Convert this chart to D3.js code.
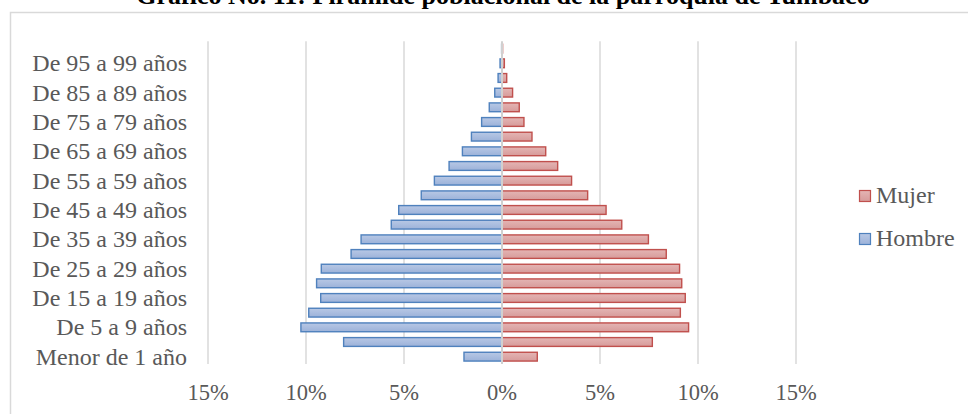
<!DOCTYPE html>
<html>
<head>
<meta charset="utf-8">
<script src="https://cdn.jsdelivr.net/npm/d3@7"></script>
<style>
  html, body { margin: 0; padding: 0; background: #fff; }
  svg { display: block; }
  text { font-family: "Liberation Serif", "Times New Roman", serif; }
</style>
</head>
<body>
<svg id="chart" width="968" height="414"></svg>
<script>
// Age groups, bottom to top of the pyramid
const categories = [
  "Menor de 1 año", "De 1 a 4 años", "De 5 a 9 años", "De 10 a 14 años",
  "De 15 a 19 años", "De 20 a 24 años", "De 25 a 29 años", "De 30 a 34 años",
  "De 35 a 39 años", "De 40 a 44 años", "De 45 a 49 años", "De 50 a 54 años",
  "De 55 a 59 años", "De 60 a 64 años", "De 65 a 69 años", "De 70 a 74 años",
  "De 75 a 79 años", "De 80 a 84 años", "De 85 a 89 años", "De 90 a 94 años",
  "De 95 a 99 años", "De 100 años y más"
];

// Share of total population (%) per age group
const hombre = [1.94, 8.08, 10.26, 9.86, 9.25, 9.46, 9.22, 7.70, 7.19, 5.65, 5.27,
                4.12, 3.45, 2.70, 2.02, 1.56, 1.04, 0.65, 0.37, 0.20, 0.10, 0.02];
const mujer  = [1.80, 7.67, 9.52, 9.10, 9.35, 9.17, 9.06, 8.38, 7.47, 6.11, 5.31,
                4.37, 3.55, 2.84, 2.23, 1.53, 1.12, 0.88, 0.54, 0.24, 0.12, 0.03];

const xTicks = [-15, -10, -5, 0, 5, 10, 15];
const seriesNames = ["Mujer", "Hombre"];
const title = "Gráfico No. 11: Pirámide poblacional de la parroquia de Tumbaco";

const svg = d3.select("#chart");
const textColor = "#595959";
const gridColor = "#d9d9d9";

// Gradients for the bar fills
const defs = svg.append("defs");
function grad(id, top, bottom) {
  const g = defs.append("linearGradient").attr("id", id)
    .attr("x1", 0).attr("y1", 0).attr("x2", 0).attr("y2", 1);
  g.append("stop").attr("offset", "0%").attr("stop-color", top);
  g.append("stop").attr("offset", "100%").attr("stop-color", bottom);
}
grad("gHombre", "#b8c8e5", "#9cb2d9");
grad("gMujer", "#e4b5b4", "#d79b9a");

const style = {
  Hombre: { fill: "url(#gHombre)", stroke: "#4f81bd" },
  Mujer:  { fill: "url(#gMujer)",  stroke: "#c0504d" }
};

// Chart frame
svg.append("rect")
  .attr("x", 10.5).attr("y", 12.5)
  .attr("width", 1000).attr("height", 500)
  .attr("fill", "#fff").attr("stroke", gridColor).attr("stroke-width", 1.5);

// Title
svg.append("text")
  .attr("x", 503).attr("y", 4)
  .attr("text-anchor", "middle")
  .attr("font-size", 26).attr("font-weight", "bold")
  .attr("fill", "#000")
  .text(title);

// Scales
const x = d3.scaleLinear().domain([-15, 15]).range([208, 796]);
const y = d3.scaleBand()
  .domain(categories.slice().reverse())
  .range([41.3, 364])
  .paddingInner(0.4)
  .paddingOuter(0.2);

// Vertical gridlines
svg.append("g").selectAll("line")
  .data(xTicks.filter(d => d !== 0))
  .join("line")
  .attr("x1", d => x(d)).attr("x2", d => x(d))
  .attr("y1", 41.3).attr("y2", 364)
  .attr("stroke", gridColor).attr("stroke-width", 1.5);

// Bars
const rows = categories.map((c, i) => ({ c, h: hombre[i], m: mujer[i] }));
const bars = svg.append("g");
bars.selectAll("rect.h")
  .data(rows).join("rect").attr("class", "h")
  .attr("x", d => x(-d.h)).attr("width", d => x(0) - x(-d.h))
  .attr("y", d => y(d.c)).attr("height", y.bandwidth())
  .attr("fill", style.Hombre.fill).attr("stroke", style.Hombre.stroke)
  .attr("stroke-width", 1.4);
bars.selectAll("rect.m")
  .data(rows).join("rect").attr("class", "m")
  .attr("x", x(0)).attr("width", d => x(d.m) - x(0))
  .attr("y", d => y(d.c)).attr("height", y.bandwidth())
  .attr("fill", style.Mujer.fill).attr("stroke", style.Mujer.stroke)
  .attr("stroke-width", 1.4);

// Zero axis line
svg.append("line")
  .attr("x1", x(0)).attr("x2", x(0))
  .attr("y1", 41.3).attr("y2", 364)
  .attr("stroke", "#d0d0d0").attr("stroke-width", 2);

// Category labels (every other group)
svg.append("g").selectAll("text")
  .data(categories.filter((c, i) => i % 2 === 0))
  .join("text")
  .attr("x", 187)
  .attr("y", d => y(d) + y.bandwidth() / 2 + 8)
  .attr("text-anchor", "end")
  .attr("font-size", 24)
  .attr("fill", textColor)
  .text(d => d);

// X tick labels
svg.append("g").selectAll("text")
  .data(xTicks)
  .join("text")
  .attr("x", d => x(d))
  .attr("y", 400)
  .attr("text-anchor", "middle")
  .attr("font-size", 22.5)
  .attr("fill", textColor)
  .text(d => Math.abs(d) + "%");

// Legend
const legend = svg.append("g");
seriesNames.forEach((name, i) => {
  const ly = 190 + i * 43;
  legend.append("rect")
    .attr("x", 859.5).attr("y", ly + 0.5)
    .attr("width", 11).attr("height", 11)
    .attr("fill", style[name].fill).attr("stroke", style[name].stroke)
    .attr("stroke-width", 1.2);
  legend.append("text")
    .attr("x", 876).attr("y", ly + 13)
    .attr("font-size", 24)
    .attr("fill", textColor)
    .text(name);
});
</script>
</body>
</html>
